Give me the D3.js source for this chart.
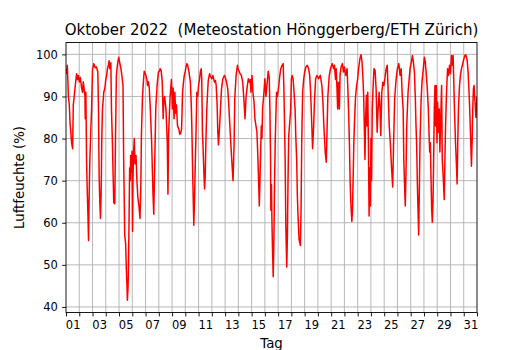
<!DOCTYPE html>
<html>
<head>
<meta charset="utf-8">
<script src="https://cdn.jsdelivr.net/npm/d3@7"></script>
<style>
  body { margin: 0; background: #ffffff; }
  svg text { font-family: "DejaVu Sans", sans-serif; fill: #000000; }
</style>
</head>
<body>
<svg id="chart" width="530" height="350"></svg>
<script>

// Luftfeuchte Oktober 2022, Zeit in Tagen ab 1. Oktober 00:00
var zeit = [
  0.0, 0.05, 0.1, 0.15, 0.18, 0.25, 0.3, 0.35, 0.42, 0.5, 0.55, 0.62, 0.68, 0.75, 0.8, 0.87, 0.93,
  1.0, 1.08, 1.18, 1.25, 1.3, 1.38, 1.43, 1.45, 1.5, 1.55, 1.6, 1.65, 1.7, 1.75, 1.8, 1.87, 1.93,
  2.0, 2.05, 2.1, 2.2, 2.3, 2.4, 2.45, 2.5, 2.55, 2.6, 2.65, 2.7, 2.75, 2.85, 2.93,
  3.0, 3.07, 3.13, 3.2, 3.25, 3.3, 3.38, 3.43, 3.5, 3.55, 3.6, 3.68, 3.73, 3.8, 3.88, 3.93, 3.98,
  4.05, 4.12, 4.18, 4.25, 4.3, 4.35, 4.4, 4.43, 4.5, 4.55, 4.6, 4.63, 4.67, 4.7, 4.75, 4.8, 4.85, 4.88, 4.93, 4.98,
  5.02, 5.05, 5.1, 5.15, 5.2, 5.28, 5.35, 5.42, 5.5, 5.58, 5.64, 5.69, 5.77, 5.85, 5.9, 5.97,
  6.03, 6.1, 6.15, 6.22, 6.28, 6.36, 6.46, 6.56, 6.62, 6.69, 6.77, 6.87, 6.97,
  7.05, 7.1, 7.18, 7.26, 7.33, 7.38, 7.44, 7.54, 7.64, 7.69, 7.74, 7.8, 7.85, 7.95,
  8.03, 8.08, 8.15, 8.21, 8.27, 8.33, 8.41, 8.51, 8.58, 8.64, 8.72, 8.79, 8.85, 8.92,
  9.0, 9.05, 9.12, 9.18, 9.28, 9.38, 9.45, 9.49, 9.56, 9.64, 9.69, 9.75, 9.79, 9.87, 9.93,
  10.0, 10.07, 10.13, 10.2, 10.24, 10.29, 10.35, 10.4, 10.45, 10.5, 10.55, 10.62, 10.68, 10.73, 10.83, 10.92,
  11.0, 11.08, 11.15, 11.2, 11.27, 11.33, 11.4, 11.45, 11.5, 11.58, 11.65, 11.73, 11.83, 11.95,
  12.02, 12.08, 12.2, 12.28, 12.33, 12.43, 12.5, 12.6, 12.68, 12.73, 12.83, 12.93, 12.98,
  13.03, 13.13, 13.23, 13.33, 13.43, 13.5, 13.58, 13.65, 13.75, 13.83, 13.9, 13.95,
  14.03, 14.1, 14.18, 14.25, 14.33, 14.4, 14.48, 14.53, 14.58, 14.65, 14.73, 14.78, 14.83, 14.93,
  15.0, 15.08, 15.18, 15.25, 15.33, 15.38, 15.43, 15.45, 15.5, 15.53, 15.58, 15.63, 15.68, 15.73, 15.78, 15.83, 15.88, 15.95,
  16.05, 16.13, 16.2, 16.3, 16.38, 16.43, 16.48, 16.53, 16.58, 16.65, 16.7, 16.75, 16.8, 16.88, 16.95,
  17.0, 17.05, 17.13, 17.2, 17.28, 17.33, 17.4, 17.45, 17.5, 17.58, 17.68, 17.73, 17.78, 17.85, 17.93,
  18.0, 18.1, 18.2, 18.3, 18.38, 18.45, 18.53, 18.6, 18.68, 18.75, 18.83, 18.93,
  19.05, 19.18, 19.3, 19.38, 19.45, 19.55, 19.63, 19.68, 19.75, 19.85, 19.95,
  20.08, 20.18, 20.25, 20.33, 20.38, 20.44, 20.49, 20.54, 20.62, 20.67, 20.75, 20.85, 20.92,
  21.0, 21.1, 21.2, 21.25, 21.31, 21.38, 21.43, 21.48, 21.56, 21.61, 21.66, 21.71, 21.76, 21.84, 21.92,
  22.0, 22.07, 22.17, 22.25, 22.33, 22.4, 22.45, 22.5, 22.55, 22.6, 22.66, 22.71, 22.76, 22.81, 22.86, 22.91, 22.96,
  23.0, 23.05, 23.1, 23.16, 23.23, 23.31, 23.39, 23.47, 23.54, 23.62, 23.69, 23.74, 23.82, 23.9, 23.98,
  24.05, 24.15, 24.23, 24.3, 24.38, 24.46, 24.56, 24.64, 24.71, 24.79, 24.9,
  25.0, 25.1, 25.2, 25.28, 25.36, 25.43, 25.48, 25.53, 25.59, 25.65, 25.7, 25.75, 25.8, 25.88, 25.95,
  26.05, 26.13, 26.2, 26.28, 26.35, 26.4, 26.45, 26.5, 26.55, 26.6, 26.65, 26.7, 26.78, 26.85, 26.95,
  27.03, 27.1, 27.18, 27.25, 27.33, 27.38, 27.43, 27.48, 27.53, 27.58, 27.63, 27.68, 27.73, 27.78, 27.83, 27.88, 27.93, 27.98,
  28.03, 28.08, 28.15, 28.2, 28.25, 28.33, 28.38, 28.45, 28.53, 28.58, 28.63, 28.7, 28.78, 28.85, 28.93,
  29.0, 29.08, 29.15, 29.2, 29.25, 29.3, 29.38, 29.45, 29.5, 29.55, 29.6, 29.68, 29.75, 29.83, 29.9, 29.98,
  30.08, 30.15, 30.25, 30.33, 30.4, 30.45, 30.53, 30.58, 30.63, 30.68, 30.73, 30.78, 30.85, 30.92, 31.0
];

var feuchte = [
  96.6, 95.5, 97.4, 93, 90, 88, 84, 82, 79, 77.6, 88, 90, 92, 94, 95.4, 94, 95,
  93.5, 94.5, 92, 91, 93.5, 91.5, 90, 84.7, 91, 75, 68, 62.5, 55.8, 67, 75, 82, 87,
  96.6, 97, 97.8, 96.8, 97, 95.8, 87, 71, 65, 61, 67, 80, 87, 91, 92,
  94, 95, 96.6, 97.5, 98.5, 96.6, 98, 87, 79, 72, 64.8, 64.5, 79, 95, 97.5, 98.5, 99.3,
  98, 97, 95.8, 94, 92.6, 75, 64, 57, 55, 49, 45, 41.6, 44, 47, 59, 73, 70, 76, 72, 77,
  58, 70, 77, 80, 74, 76, 70, 66, 64, 61, 68, 81, 90, 94, 96, 95.5,
  95, 94, 92.6, 93.5, 92, 87, 79, 67, 62, 73.7, 87, 92.6, 95.8,
  96, 96.6, 96.2, 93.4, 84.7, 89, 90, 87, 79, 66.8, 81, 86, 89.8, 94,
  87, 92, 84.7, 91, 86, 88, 83, 82.3, 81, 81.2, 82.3, 91, 93, 95,
  96, 97, 97.8, 97.4, 95.8, 93.4, 88, 83, 71, 59.4, 65, 74, 79, 91, 90,
  92.6, 94, 95.8, 96.6, 94, 81.6, 76.8, 72, 68, 71, 79, 87, 91, 93.8, 95.4, 94.6,
  94.2, 95, 94, 93.4, 93.8, 92.6, 87.9, 81.6, 78.5, 82.5, 87, 91.8, 94.2, 95,
  94.5, 93.8, 91.8, 88, 84.7, 79, 75, 70, 79, 89.5, 95, 97.4, 96.5,
  96.2, 95.4, 95, 93.4, 88.7, 84.7, 89.9, 91.8, 94.2, 93.4, 94, 91,
  95, 91, 88.7, 84.7, 83, 81.6, 75, 69.6, 64, 72.8, 83, 80, 87, 91,
  94.2, 90, 93.4, 96, 94.5, 87, 75, 63, 69, 61, 53, 47.2, 55.4, 69.7, 79, 85.5, 91, 90,
  92.6, 95, 96.6, 97.4, 97.8, 92.6, 84, 75, 59.4, 49.5, 57, 71, 80.7, 84, 87,
  94.2, 95, 94.2, 91, 87, 80.7, 75, 66.5, 61.7, 56, 54.6, 63.3, 79, 91, 94.2,
  95.8, 97, 97.4, 96.6, 95, 91, 84, 77.6, 83, 89.5, 94.2, 95,
  94.2, 95, 92.6, 88.7, 83, 76.8, 74.4, 80.7, 90, 94.8, 96.6,
  97.8, 96.6, 97.4, 94, 96.6, 91.8, 87, 93.4, 87, 95, 97, 97.8, 95.8,
  97, 95, 96.6, 92.6, 87, 78.5, 70, 65, 60.3, 63, 71, 79, 83.9, 90, 92.6,
  94.2, 96.6, 99, 99.9, 98.2, 94.2, 90.3, 83, 75, 84.7, 90.3, 83, 91, 79, 61.6, 73, 64,
  80, 70, 87, 92, 96.6, 96.2, 91.8, 81.5, 87, 91, 87, 80.7, 91, 93.4, 92.6,
  94.2, 96.6, 97.4, 91, 83, 79, 72.8, 68.5, 79, 89.5, 94.2,
  96.6, 97.8, 95, 96.6, 90.3, 87, 75, 69.6, 64, 72.8, 83, 87, 91, 94, 96.6,
  98.2, 99.7, 98.2, 95.8, 89.5, 83, 78.2, 69.6, 63.3, 57.1, 67.4, 79, 88.7, 93.4, 96.6,
  99.3, 98.2, 95, 91.8, 87, 81.5, 76.8, 79, 71, 63.3, 60.1, 64.8, 75, 87, 92.6, 83, 92.6, 79,
  88.7, 81.5, 87, 76.8, 83, 92.6, 75, 71, 65.5, 75, 83, 91, 96.6, 95, 97.4,
  95.4, 99.7, 97.4, 99.7, 93.4, 87, 79, 73.6, 69.2, 79, 87, 92.6, 95, 96.6, 97.4, 98.6,
  99.7, 99.9, 98.8, 95.8, 91, 87, 79, 73.4, 79, 87, 91.8, 92.6, 88.7, 85, 90
];

var tagLabels = ["01", "03", "05", "07", "09", "11", "13", "15", "17", "19", "21", "23", "25", "27", "29", "31"];
var yTicks = [40, 50, 60, 70, 80, 90, 100];

var titel = "Oktober 2022  (Meteostation Hönggerberg/ETH Zürich)";


// Setup plot area
var svg = d3.select("#chart");
var plot_left = 66, plot_right = 477, plot_top = 42.5, plot_bottom = 312.5;
var tick_len = 3.9;

var x = d3.scaleLinear()
          .domain([0, 31])
          .range([plot_left, plot_right]);

// y range with 5% margin like matplotlib
var y_ext = d3.extent(feuchte);
var y_pad = (y_ext[1] - y_ext[0]) * 0.05;
var y = d3.scaleLinear()
          .domain([y_ext[0] - y_pad, y_ext[1] + y_pad])
          .range([plot_bottom, plot_top]);

var data = zeit.map(function(t, i) { return [t, feuchte[i]]; });


// Grid
var grid = svg.append("g");
grid.selectAll("line.vgrid").data(d3.range(1, 31)).enter().append("line")
    .attr("class", "vgrid")
    .attr("x1", function(d) { return x(d); })
    .attr("x2", function(d) { return x(d); })
    .attr("y1", plot_top)
    .attr("y2", plot_bottom)
    .style("stroke", "#b0b0b0")
    .style("stroke-width", 0.9);

grid.selectAll("line.hgrid").data(yTicks).enter().append("line")
    .attr("class", "hgrid")
    .attr("x1", plot_left)
    .attr("x2", plot_right)
    .attr("y1", function(d) { return y(d); })
    .attr("y2", function(d) { return y(d); })
    .style("stroke", "#b0b0b0")
    .style("stroke-width", 0.9);


// Humidity line
svg.append("clipPath").attr("id", "clip")
   .append("rect")
   .attr("x", plot_left).attr("y", plot_top)
   .attr("width", plot_right - plot_left).attr("height", plot_bottom - plot_top);

var line = d3.line()
             .x(function(d) { return x(d[0]); })
             .y(function(d) { return y(d[1]); });

svg.append("path").datum(data)
   .attr("clip-path", "url(#clip)")
   .attr("d", line)
   .style("fill", "none")
   .style("stroke", "#ff0000")
   .style("stroke-width", 1.5)
   .style("stroke-linejoin", "round");


// Axes
var xTickAxis = d3.axisBottom(x)
                  .tickValues(d3.range(0, 32))
                  .tickFormat("")
                  .tickSizeInner(tick_len)
                  .tickSizeOuter(0);

var xLabelAxis = d3.axisBottom(x)
                   .tickValues(d3.range(0.5, 31, 2))
                   .tickFormat(function(d, i) { return tagLabels[i]; })
                   .tickSize(0)
                   .tickPadding(tick_len + 4.8);

var yAxis = d3.axisLeft(y)
              .tickValues(yTicks)
              .tickSizeInner(tick_len)
              .tickSizeOuter(0)
              .tickPadding(4.2);

function styleAxis(g) {
  g.select(".domain").remove();
  g.selectAll("line").style("stroke", "#000000").style("stroke-width", 0.9);
  g.selectAll("text").style("font-size", "11.5px").style("font-family", "DejaVu Sans");
}

svg.append("g").attr("transform", "translate(0," + plot_bottom + ")").call(xTickAxis).call(styleAxis);
svg.append("g").attr("transform", "translate(0," + plot_bottom + ")").call(xLabelAxis).call(styleAxis);
svg.append("g").attr("transform", "translate(" + plot_left + ",0)").call(yAxis).call(styleAxis);


// Frame
svg.append("rect")
   .attr("x", plot_left).attr("y", plot_top)
   .attr("width", plot_right - plot_left).attr("height", plot_bottom - plot_top)
   .style("fill", "none")
   .style("stroke", "#000000")
   .style("stroke-width", 0.9);


// Titles
svg.append("text")
   .attr("x", (plot_left + plot_right) / 2)
   .attr("y", 35)
   .attr("text-anchor", "middle")
   .style("font-size", "15px")
   .style("white-space", "pre")
   .text(titel);

svg.append("text")
   .attr("x", (plot_left + plot_right) / 2)
   .attr("y", 347.5)
   .attr("text-anchor", "middle")
   .style("font-size", "13.3px")
   .text("Tag");

svg.append("text")
   .attr("transform", "translate(23.5," + ((plot_top + plot_bottom) / 2) + ") rotate(-90)")
   .attr("text-anchor", "middle")
   .style("font-size", "13.3px")
   .text("Luftfeuchte (%)");

</script>
</body>
</html>
